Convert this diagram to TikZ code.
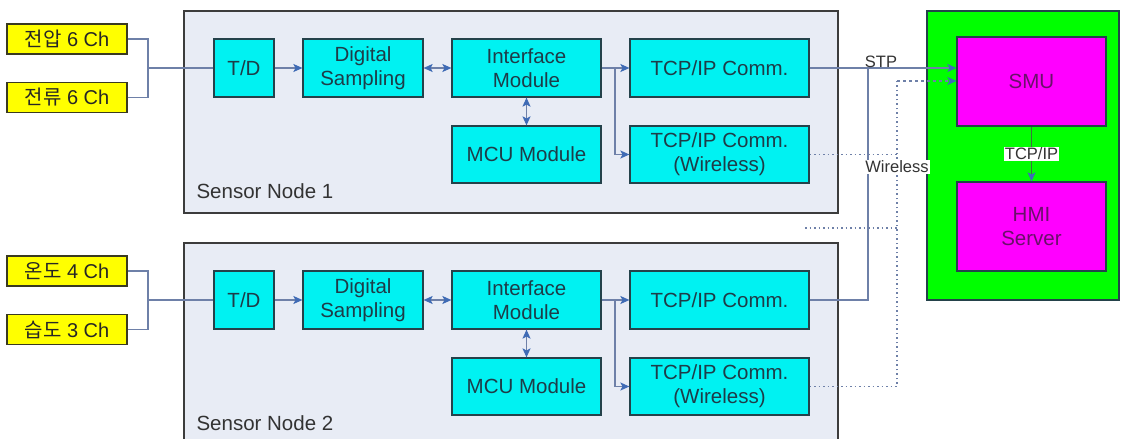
\documentclass[tikz,border=0pt]{standalone}
\usepackage{fontspec}
\setmainfont{Liberation Sans}
\newfontfamily\krfont{Noto Sans CJK KR}
\usetikzlibrary{positioning,arrows.meta,calc}

\definecolor{boxcyan}{HTML}{00F2F2}
\definecolor{blockline}{HTML}{24424A}
\definecolor{blocktext}{HTML}{1E3C48}
\definecolor{chanyellow}{HTML}{FFFF00}
\definecolor{chanline}{HTML}{3A3A20}
\definecolor{nodegray}{HTML}{E8ECF5}
\definecolor{nodeline}{HTML}{3C3C3C}
\definecolor{wirecol}{HTML}{6E80A8}
\definecolor{tipcol}{HTML}{3F6BB5}
\definecolor{srvgreen}{HTML}{00FF00}
\definecolor{srvmag}{HTML}{FF00FF}
\definecolor{srvtext}{HTML}{6A106A}

\begin{document}
\begin{tikzpicture}[x=1pt,y=-1pt,
		> = {Stealth[length=9pt,width=8pt,inset=2pt,color=tipcol]},
		block/.style={draw=blockline,line width=1.2pt,fill=boxcyan,text=blocktext,align=center,inner sep=0pt,font=\fontsize{20.5}{24}\selectfont},
		chan/.style={draw=chanline,line width=1.2pt,fill=chanyellow,text=black!85,minimum width=120pt,minimum height=30pt,inner sep=0pt,font=\fontsize{20}{24}\selectfont},
		nodebox/.style={draw=nodeline,line width=1.2pt,fill=nodegray,inner sep=0pt},
		server/.style={draw=blockline,line width=1.2pt,fill=srvmag,text=srvtext,align=center,minimum width=149pt,minimum height=89pt,inner sep=0pt,font=\fontsize{20.5}{24}\selectfont},
		wire/.style={draw=wirecol,line width=1.2pt},
		tip/.style={wire,->},
		air/.style={wire,line width=1.5pt,dash pattern=on 1.5pt off 3pt},
		lbl/.style={font=\fontsize{16.5}{20}\selectfont,text=black!80,inner sep=1pt}
		]
		\useasboundingbox[fill=white] (0,0) rectangle (1122,439);

		% sensor node frames
		\node[nodebox,minimum width=654pt,minimum height=202pt] (sn1) at (511,112) {};
		\node[nodebox,minimum width=654pt,minimum height=202pt] (sn2) at (511,344) {};
		\node[anchor=base west,font=\fontsize{20.5}{24}\selectfont,text=black!80] at (193,198) {Sensor Node 1};
		\node[anchor=base west,font=\fontsize{20.5}{24}\selectfont,text=black!80] at (193,430) {Sensor Node 2};

		% server side
		\node[draw=blockline,line width=1.2pt,fill=srvgreen,minimum width=192pt,minimum height=289pt,inner sep=0pt] (srv) at (1023,155.5) {};
		\node[server] (smu) at (1031.5,81.5) {SMU};
		\node[server] (hmi) at (1031.5,226.5) {HMI\\Server};

		% inputs
		\node[chan] (v1) at (67,39) {{\krfont 전압} 6 Ch};
		\node[chan] (c1) at (67,97.5) {{\krfont 전류} 6 Ch};
		\node[chan] (t2) at (67,271) {{\krfont 온도} 4 Ch};
		\node[chan] (h2) at (67,329.5) {{\krfont 습도} 3 Ch};

		% blocks of node 1
		\node[block,minimum width=60pt,minimum height=58pt] (td1) at (244,68) {T/D};
		\node[block,minimum width=120pt,minimum height=58pt] (ds1) at (363,68) {Digital\\Sampling};
		\node[block,minimum width=149pt,minimum height=58pt] (if1) at (526.5,68) {Interface\\Module};
		\node[block,minimum width=149pt,minimum height=57pt] (mcu1) at (526.5,154.5) {MCU Module};
		\node[block,minimum width=179pt,minimum height=58pt] (tcp1) at (719.5,68) {TCP/IP Comm.};
		\node[block,minimum width=179pt,minimum height=57pt] (tcpw1) at (719.5,154.5) {TCP/IP Comm.\\(Wireless)};

		% blocks of node 2
		\node[block,minimum width=60pt,minimum height=58pt] (td2) at (244,300) {T/D};
		\node[block,minimum width=120pt,minimum height=58pt] (ds2) at (363,300) {Digital\\Sampling};
		\node[block,minimum width=149pt,minimum height=58pt] (if2) at (526.5,300) {Interface\\Module};
		\node[block,minimum width=149pt,minimum height=57pt] (mcu2) at (526.5,386.5) {MCU Module};
		\node[block,minimum width=179pt,minimum height=58pt] (tcp2) at (719.5,300) {TCP/IP Comm.};
		\node[block,minimum width=179pt,minimum height=57pt] (tcpw2) at (719.5,386.5) {TCP/IP Comm.\\(Wireless)};

		% junction points
		\coordinate (j1) at (148,68);
		\coordinate (j2) at (148,300);
		\coordinate (sp1) at (615,68);
		\coordinate (sp2) at (615,300);
		\coordinate (stpj) at (868,68);
		\coordinate (wj) at (897,81);
		\coordinate (wx) at (805,228);

		% inside node 1
		\draw[wire] (v1.east) -| (j1);
		\draw[wire] (c1.east) -| (j1);
		\draw[wire] (j1) -- (td1.west);
		\draw[tip] (td1) -- (ds1);
		\draw[tip,<->] (ds1) -- (if1);
		\draw[tip,<->] (if1) -- (mcu1);
		\draw[wire] (if1.east) -- (sp1);
		\draw[tip] (sp1) -- (tcp1);
		\draw[tip] (sp1) |- (tcpw1.west);

		% inside node 2
		\draw[wire] (t2.east) -| (j2);
		\draw[wire] (h2.east) -| (j2);
		\draw[wire] (j2) -- (td2.west);
		\draw[tip] (td2) -- (ds2);
		\draw[tip,<->] (ds2) -- (if2);
		\draw[tip,<->] (if2) -- (mcu2);
		\draw[wire] (if2.east) -- (sp2);
		\draw[tip] (sp2) -- (tcp2);
		\draw[tip] (sp2) |- (tcpw2.west);

		% wired links
		\draw[tip] (tcp1.east) -- (tcp1.east -| smu.west) node[midway,lbl,anchor=south,inner sep=0pt,xshift=-2pt] {STP};
		\draw[wire] (tcp2.east) -| (stpj);

		% wireless links
		\draw[air] (tcpw1.east) -- (tcpw1.east -| wj);
		\draw[air] (wx) -- (wx -| wj);
		\draw[air] (tcpw2.east) -| (wj);
		\draw[tip,dashed] (wj) -- (wj -| smu.west);
		\node[lbl,fill=white] (wl) at (897,167) {Wireless};

		% server link
		\draw[tip,draw=srvtext!60!green] (smu) -- (hmi) node[midway,lbl,fill=white] {TCP/IP};
\end{tikzpicture}
\end{document}
